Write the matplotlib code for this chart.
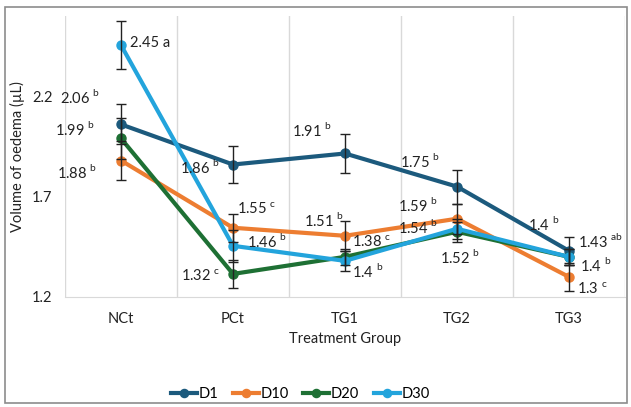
import numpy as np
import matplotlib.pyplot as plt
from matplotlib.patches import Rectangle

plt.rcParams['font.family'] = ['Lato', 'DejaVu Sans']
plt.rcParams['mathtext.fontset'] = 'custom'
plt.rcParams['mathtext.rm'] = 'Lato'

# data
groups = ['NCt', 'PCt', 'TG1', 'TG2', 'TG3']
series = ['D1', 'D10', 'D20', 'D30']
d1 = [2.06, 1.86, 1.915, 1.75, 1.43]
d10 = [1.88, 1.545, 1.505, 1.59, 1.30]
d20 = [1.99, 1.315, 1.40, 1.525, 1.40]
d30 = [2.455, 1.455, 1.38, 1.54, 1.40]
err_d1 = [0.10, 0.09, 0.095, 0.085, 0.07]
err_d10 = [0.095, 0.07, 0.075, 0.075, 0.07]
err_d20 = [0.10, 0.07, 0.04, 0.05, 0.04]
err_d30 = [0.12, 0.08, 0.05, 0.05, 0.04]
lab_d1 = [('2.06', 'b'), ('1.86', 'b'), ('1.91', 'b'), ('1.75', 'b'), ('1.43', 'ab')]
lab_d10 = [('1.88', 'b'), ('1.55', 'c'), ('1.51', 'b'), ('1.59', 'b'), ('1.3', 'c')]
lab_d20 = [('1.99', 'b'), ('1.32', 'c'), ('1.38', 'c'), ('1.52', 'b'), ('1.4', 'b')]
lab_d30 = [('2.45 a', ''), ('1.46', 'b'), ('1.4', 'b'), ('1.54', 'b'), ('1.4', 'b')]

colors = ['#1c5a7d', '#ed7d31', '#1e7034', '#23a4dc']

# label offsets in pixels (dx, dy, ha)
offs = {
    'D1': [(-21, 27, 'right'), (-13, -2, 'right'), (-13, 23, 'right'), (-17, 26, 'right'), (9, 10, 'left')],
    'D10': [(-24, -11, 'right'), (4, 19, 'left'), (-1, 16, 'right'), (-19, 14, 'right'), (8, -12, 'left')],
    'D20': [(-26, 9, 'right'), (-13, -2, 'right'), (7, 15, 'left'), (3, -25, 'center'), (-9, 33, 'right')],
    'D30': [(9, 2, 'left'), (14, 5, 'left'), (7, -10, 'left'), (-19, 2, 'right'), (11, -8, 'left')],
}

fig = plt.figure(figsize=(6.31, 4.07), dpi=100)
fig.patches.append(Rectangle((5 / 631, 4 / 407), 622 / 631, 396 / 407, transform=fig.transFigure,
                             fill=False, edgecolor='#8c8c8c', linewidth=1.2))
ax = fig.add_axes([65 / 631, 1 - 297 / 407, 560 / 631, 281 / 407])

x = np.arange(len(groups))
allvals = [d1, d10, d20, d30]
allerr = [err_d1, err_d10, err_d20, err_d30]
alllab = [lab_d1, lab_d10, lab_d20, lab_d30]

for name, vals, err, labs, c in zip(series, allvals, allerr, alllab, colors):
    ax.plot(x, vals, color=c, linewidth=3, marker='o', markersize=6.5, label=name, zorder=3)
    ax.errorbar(x, vals, yerr=err, fmt='none', ecolor='#222222', elinewidth=1, capsize=3.5,
                capthick=1, zorder=4)
    for i, (v, sup) in enumerate(labs):
        dx, dy, ha = offs[name][i]
        txt = v + (r' $^{\mathrm{' + sup + '}}$' if sup else '')
        ax.annotate(txt, (x[i], vals[i]), xytext=(dx, dy),
                    textcoords='offset pixels', ha=ha, va='center', fontsize=10.5,
                    color='#222222', zorder=5)

ax.set_xlim(-0.5, 4.5)
ax.set_ylim(1.2, 2.6)
ax.set_yticks([1.2, 1.7, 2.2])
ax.set_yticklabels(['1.2', '1.7', '2.2'])
ax.set_xticks(x)
ax.set_xticklabels(groups)
for b in np.arange(-0.5, 5, 1):
    ax.axvline(b, color='#d9d9d9', linewidth=1, zorder=0)
for s in ['top', 'right', 'left']:
    ax.spines[s].set_visible(False)
ax.spines['bottom'].set_color('#d9d9d9')
ax.tick_params(length=0, labelsize=10.5, colors='#222222', pad=11)
ax.tick_params(axis='y', pad=9)
ax.set_xlabel('Treatment Group', fontsize=10.5, color='#222222', labelpad=4)
ax.set_ylabel('Volume of oedema (µL)', fontsize=10.5, color='#222222')
ax.yaxis.set_label_coords(-0.071, 0.5)

ax.legend(loc='center', bbox_to_anchor=(0.42, -0.345), ncol=4, frameon=False, fontsize=10.5,
          handlelength=1.8, handletextpad=0.1, columnspacing=1.0, markerscale=0.9)

fig.savefig('out.png', dpi=100)
